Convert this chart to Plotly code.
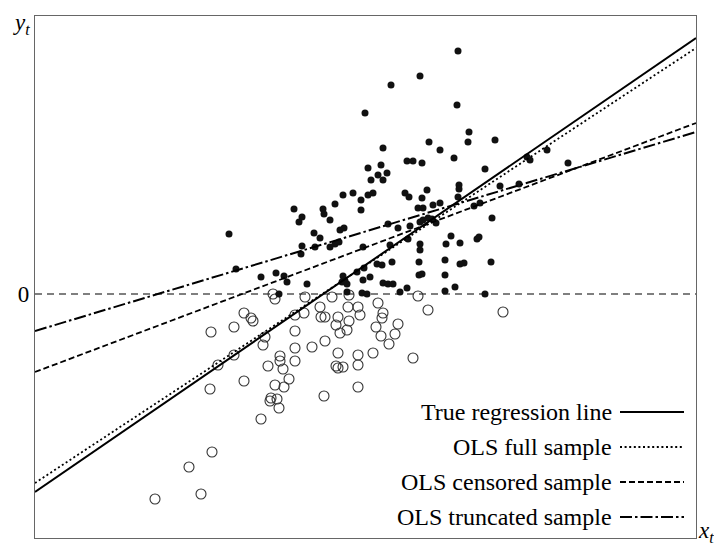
import plotly.graph_objects as go

# Data units: x measured from left axis, y measured from the zero line
filled_px = [
    (229,234),(236,269),(261,277),(276,273),(284,276),(287,282),(307,284),(279,294),
    (294,209),(302,217),(299,222),(302,246),(301,254),
    (314,233),(320,238),(315,247),
    (323,209),(324,214),(330,220),(335,204),(343,195),(353,193),(361,200),(361,210),(368,195),(373,193),
    (340,230),(344,228),(330,247),(335,244),(339,242),(363,247),
    (343,276),(342,282),(345,281),(347,284),(357,272),(364,268),(347,292),(362,293),(367,294),
    (370,277),(363,280),(383,283),(388,284),(393,284),(400,292),(407,288),
    (419,275),(422,274),(445,275),(445,291),(455,287),(485,294),
    (377,264),(382,265),(392,262),(419,262),(445,260),(460,264),(464,263),(491,262),
    (390,245),(408,239),(420,244),(420,250),(446,244),(451,236),(460,243),(477,239),(479,237),
    (420,222),(423,220),(428,218),(432,219),(436,223),(388,224),(398,228),(410,226),
    (418,208),(423,208),(433,205),(440,203),(458,197),(474,206),(480,203),(492,218),
    (405,193),(409,197),(427,190),(422,198),(500,186),(519,184),(459,185),(459,189),
    (485,169),(368,168),(381,165),(378,175),(383,180),(371,180),(387,173),
    (527,157),(530,160),(547,150),(568,163),(407,161),(413,161),(422,163),(454,158),
    (383,148),(440,150),(429,142),(469,132),(468,142),(495,140),(365,113),(391,85),
    (420,76),(458,51),(457,105),
]
hollow_px = [
    (273,294),(275,299),(305,297),(332,297),(349,295),(418,296),(428,310),(503,312),
    (244,313),(251,318),(253,321),(234,327),(211,332),(210,389),(244,381),(218,365),(234,355),
    (265,337),(263,345),(268,366),(280,356),(280,361),(283,369),
    (295,315),(304,313),(295,331),(295,348),(295,361),(312,347),(325,341),(289,379),
    (275,385),(284,387),(271,398),(270,401),(277,399),(279,408),(261,419),(324,396),
    (212,452),(189,467),(201,494),(155,499),
    (320,307),(321,317),(325,317),(338,317),(336,325),(340,333),(348,307),(349,321),(347,330),
    (338,353),(336,366),(338,368),(343,367),(358,307),(360,315),(358,355),(358,365),(358,387),
    (378,303),(383,313),(382,318),(376,327),(381,336),(395,334),(398,324),(389,344),(373,353),(413,358),
]
X0, Y0 = 35, 294
filled_x = [p[0] - X0 for p in filled_px]
filled_y = [Y0 - p[1] for p in filled_px]
hollow_x = [p[0] - X0 for p in hollow_px]
hollow_y = [Y0 - p[1] for p in hollow_px]

line_names = ["True regression line", "OLS full sample", "OLS censored sample", "OLS truncated sample"]
line_intercepts = [-198, -189, -78, -37]
line_ends = [256, 246, 171, 162]
line_dashes = ["solid", "2px,2.6px", "6px,3px", "12px,3px,2.5px,3px"]
line_widths = [2, 1.8, 1.8, 2]

XMAX = 661
YMIN, YMAX = -244, 278

fig = go.Figure()

fig.add_shape(type="line", x0=0, x1=XMAX, y0=0, y1=0, xref="x", yref="y",
              line=dict(color="black", width=1.1, dash="7px,5px"), layer="below")

fig.add_trace(go.Scatter(x=hollow_x, y=hollow_y, mode="markers",
                         marker=dict(symbol="circle-open", size=10, color="#333",
                                     line=dict(width=1.1, color="#333")),
                         showlegend=False, hoverinfo="skip"))
fig.add_trace(go.Scatter(x=filled_x, y=filled_y, mode="markers",
                         marker=dict(symbol="circle", size=7, color="#111"),
                         showlegend=False, hoverinfo="skip"))

for name, a, b, d, w in zip(line_names, line_intercepts, line_ends, line_dashes, line_widths):
    fig.add_trace(go.Scatter(x=[0, XMAX], y=[a, b], mode="lines", name=name,
                             line=dict(color="black", width=w, dash=d),
                             showlegend=False, hoverinfo="skip"))

# Custom legend: text right-aligned with line sample to the right
leg_rows_y = [294 - 412, 294 - 447, 294 - 482, 294 - 517]
text_right = 614 - X0
samp_x0, samp_x1 = 620 - X0, 684 - X0
for name, yy, d, w in zip(line_names, leg_rows_y, line_dashes, line_widths):
    fig.add_annotation(x=text_right, y=yy, xref="x", yref="y", text=name,
                       showarrow=False, xanchor="right", yanchor="middle",
                       font=dict(family="Liberation Serif", size=24, color="black"))
    fig.add_trace(go.Scatter(x=[samp_x0, samp_x1], y=[yy, yy], mode="lines",
                             line=dict(color="black", width=w, dash=d),
                             showlegend=False, hoverinfo="skip"))

fig.add_annotation(x=0, y=1, xref="paper", yref="paper", text="<i>y<sub>t</sub></i>",
                   showarrow=False, xanchor="right", yanchor="top", xshift=-3, yshift=8,
                   font=dict(family="Liberation Serif", size=23, color="black"))
fig.add_annotation(x=1, y=0, xref="paper", yref="paper", text="<i>x<sub>t</sub></i>",
                   showarrow=False, xanchor="left", yanchor="middle", xshift=0, yshift=6,
                   font=dict(family="Liberation Serif", size=23, color="black"))

fig.update_xaxes(range=[0, XMAX], showgrid=False, zeroline=False, showticklabels=False,
                 ticks="", showline=True, linecolor="#666", linewidth=1.2, mirror=True)
fig.update_yaxes(range=[YMIN, YMAX], showgrid=False, zeroline=False,
                 tickvals=[0], ticktext=["0"], ticks="",
                 tickfont=dict(family="Liberation Serif", size=23, color="black"),
                 showline=True, linecolor="#666", linewidth=1.2, mirror=True)

# the page body adds an 8px offset, so margins are shifted to place the plot box
fig.update_layout(width=722, height=547, margin=dict(l=27, r=34, t=8, b=17),
                  plot_bgcolor="white", paper_bgcolor="white", showlegend=False)

fig.write_html("out.html")
